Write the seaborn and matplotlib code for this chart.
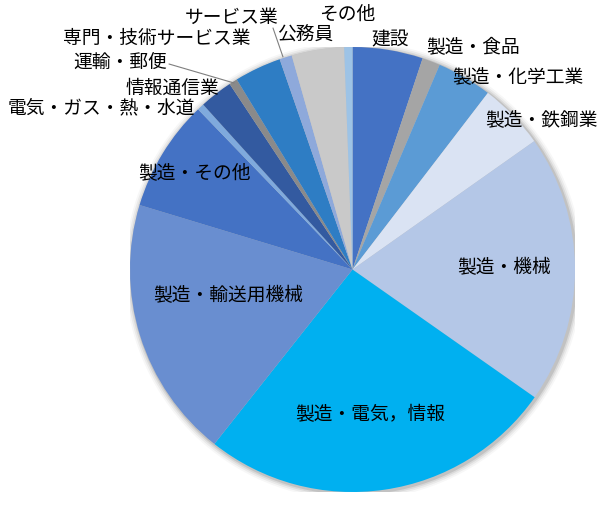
import matplotlib
matplotlib.use("Agg")
import matplotlib.pyplot as plt
import seaborn as sns
from matplotlib.patches import Circle

sns.set_theme(style="white")
plt.rcParams['font.family'] = ['Noto Sans CJK JP', 'DejaVu Sans']

categories = ["建設", "製造・食品", "製造・化学工業", "製造・鉄鋼業", "製造・機械",
              "製造・電気，情報", "製造・輸送用機械", "製造・その他", "電気・ガス・熱・水道",
              "情報通信業", "運輸・郵便", "専門・技術サービス業", "サービス業", "公務員", "その他"]
values = [5.1, 1.3, 4.0, 4.8, 19.5, 25.9, 19.0, 8.1, 0.5, 2.4, 0.6, 3.4, 0.9, 3.8, 0.6]
colors = sns.color_palette(["#4472C4", "#A5A5A5", "#5B9BD5", "#DAE3F3", "#B4C7E7",
                            "#00B0F0", "#698ED0", "#4472C4", "#7FAADD", "#335AA0",
                            "#8A8A8A", "#2E7DC4", "#8EA9DB", "#C9C9C9", "#9DC3E6"])

W, H = 607, 515
CX, CY, R = 352.5, 269.5, 222.5

fig = plt.figure(figsize=(W / 100, H / 100), dpi=100)
ax = fig.add_axes([(CX - R) / W, (H - CY - R) / H, 2 * R / W, 2 * R / H])
ax.set_xlim(-1, 1)
ax.set_ylim(-1, 1)
ax.axis("off")

# soft shadow
for i, (r, a) in enumerate([(1.030, 0.03), (1.022, 0.05), (1.014, 0.07), (1.007, 0.10)]):
    ax.add_patch(Circle((0.006, -0.006), r, color="black", alpha=a, lw=0, zorder=0))

ax.pie(values, colors=colors, startangle=90, counterclock=False, radius=1,
       wedgeprops=dict(linewidth=0), normalize=True)
ax.set_xlim(-1, 1)
ax.set_ylim(-1, 1)


def px(x, y):
    return ((x - CX) / R, (CY - y) / R)


label_pos = {
    "建設": (390, 40),
    "製造・食品": (473, 47.5),
    "製造・化学工業": (517.5, 77),
    "製造・鉄鋼業": (541, 120),
    "製造・機械": (504, 268),
    "製造・電気，情報": (370, 415),
    "製造・輸送用機械": (228, 296),
    "製造・その他": (194.5, 173),
    "電気・ガス・熱・水道": (101.5, 108),
    "情報通信業": (172.5, 88),
    "運輸・郵便": (120, 63),
    "専門・技術サービス業": (157, 38),
    "サービス業": (231.5, 17),
    "公務員": (305, 35),
    "その他": (347, 14),
}
for name in categories:
    x, y = px(*label_pos[name])
    ax.text(x, y, name, ha="center", va="center", fontsize=13.5, color="black",
            clip_on=False)

# leader lines
for (x0, y0), (x1, y1) in [((169, 64), (234, 83)), ((273, 28), (283, 57))]:
    a0 = px(x0, y0)
    a1 = px(x1, y1)
    ax.plot([a0[0], a1[0]], [a0[1], a1[1]], color="#7F7F7F", lw=0.8, clip_on=False)

fig.savefig("out.png", dpi=100, facecolor="white")
